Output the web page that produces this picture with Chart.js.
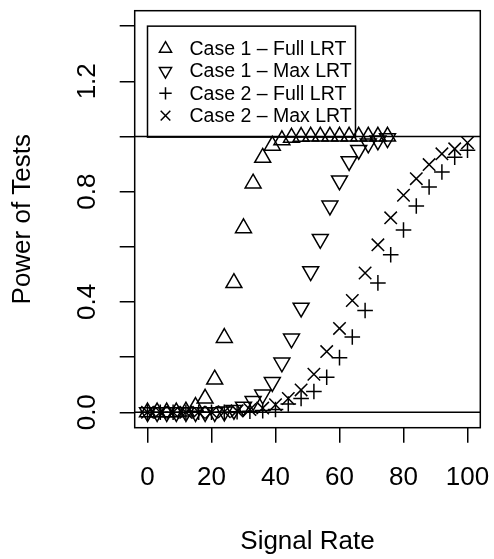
<!DOCTYPE html>
<html>
<head>
<meta charset="utf-8">
<script src="https://cdn.jsdelivr.net/npm/chart.js@4.4.0/dist/chart.umd.min.js"></script>
<style>
  html, body { margin: 0; padding: 0; background: #fff; }
  #wrap { width: 494px; height: 559px; }
</style>
</head>
<body>
<div id="wrap"><canvas id="chart" width="494" height="559"></canvas></div>
<script>
// Case 1: signal rates 0..75 in steps of 3
const case1Rates = [0, 3, 6, 9, 12, 15, 18, 21, 24, 27, 30, 33, 36, 39, 42, 45, 48, 51, 54, 57, 60, 63, 66, 69, 72, 75];
const case1Full = [0, 0, 0, 0, 0.003, 0.02, 0.05, 0.119, 0.27, 0.469, 0.668, 0.83, 0.923, 0.967, 0.987, 0.996, 0.999, 1, 1, 1, 1, 1, 1, 1, 1, 1];
const case1Max = [0, 0, 0, 0, 0, 0, 0, 0, 0.002, 0.008, 0.02, 0.04, 0.064, 0.109, 0.18, 0.267, 0.379, 0.511, 0.628, 0.749, 0.84, 0.91, 0.951, 0.974, 0.985, 0.993];

// Case 2: signal rates 0..100 in steps of 4
const case2Rates = [0, 4, 8, 12, 16, 20, 24, 28, 32, 36, 40, 44, 48, 52, 56, 60, 64, 68, 72, 76, 80, 84, 88, 92, 96, 100];
const case2Full = [0, 0, 0, 0, 0, 0, 0, 0.002, 0.004, 0.006, 0.01, 0.03, 0.05, 0.075, 0.127, 0.198, 0.273, 0.369, 0.469, 0.571, 0.661, 0.748, 0.817, 0.871, 0.925, 0.95];
const case2Max = [0, 0, 0, 0, 0, 0, 0.002, 0.005, 0.01, 0.015, 0.027, 0.05, 0.081, 0.138, 0.22, 0.304, 0.405, 0.505, 0.607, 0.705, 0.787, 0.847, 0.898, 0.937, 0.955, 0.977];

const seriesNames = ['Case 1 \u2013 Full LRT', 'Case 1 \u2013 Max LRT', 'Case 2 \u2013 Full LRT', 'Case 2 \u2013 Max LRT'];

// axes
const xRange = [-4, 104];
const yRange = [-0.056, 1.456];
const xTicks = [0, 20, 40, 60, 80, 100];
const yTicks = [0, 0.2, 0.4, 0.6, 0.8, 1.0, 1.2, 1.4];
const yTickLabels = ['0.0', '', '0.4', '', '0.8', '', '1.2', ''];
const refLevels = [0, 1];

const FONT = 'Liberation Sans, Arial, Helvetica, sans-serif';

function toPoints(xs, ys) {
    return xs.map((x, i) => ({ x: x, y: ys[i] }));
}

const markerStyles = [
    { pointStyle: 'triangle', radius: 9.2, rotation: 0, legendRadius: 7 },
    { pointStyle: 'triangle', radius: 9.2, rotation: 180, legendRadius: 7 },
    { pointStyle: 'cross', radius: 7.8, rotation: 0, legendRadius: 6.2 },
    { pointStyle: 'crossRot', radius: 8.8, rotation: 0, legendRadius: 6.8 }
];

const seriesData = [
    toPoints(case1Rates, case1Full),
    toPoints(case1Rates, case1Max),
    toPoints(case2Rates, case2Full),
    toPoints(case2Rates, case2Max)
];

const datasets = seriesData.map((pts, i) => ({
    label: seriesNames[i],
    data: pts,
    showLine: false,
    pointStyle: markerStyles[i].pointStyle,
    pointRadius: markerStyles[i].radius,
    pointHoverRadius: markerStyles[i].radius,
    pointRotation: markerStyles[i].rotation,
    pointBorderWidth: 1.5,
    pointBorderColor: '#000',
    pointBackgroundColor: 'rgba(0,0,0,0)'
}));

// horizontal reference lines across the whole plot
refLevels.forEach(level => {
    datasets.push({
        label: 'ref' + level,
        data: [{ x: xRange[0], y: level }, { x: xRange[1], y: level }],
        showLine: true,
        borderColor: '#000',
        borderWidth: 1.5,
        pointRadius: 0,
        pointHoverRadius: 0
    });
});

// box around the plot region
const framePlugin = {
    id: 'frame',
    afterDraw(chart) {
        const { ctx, chartArea } = chart;
        ctx.save();
        ctx.strokeStyle = '#000';
        ctx.lineWidth = 1.5;
        ctx.strokeRect(chartArea.left, chartArea.top, chartArea.right - chartArea.left, chartArea.bottom - chartArea.top);
        ctx.restore();
    }
};

// R style legend anchored at (0, 1.4)
const legendPlugin = {
    id: 'rLegend',
    afterDraw(chart) {
        const { ctx } = chart;
        const xs = chart.scales.x;
        const ys = chart.scales.y;
        const left = xs.getPixelForValue(0);
        const top = ys.getPixelForValue(1.4);
        const width = 208;
        const height = 111;

        ctx.save();
        ctx.strokeStyle = '#000';
        ctx.lineWidth = 1.5;
        ctx.strokeRect(left, top, width, height);

        ctx.font = '19.5px ' + FONT;
        ctx.fillStyle = '#000';
        ctx.textAlign = 'left';
        ctx.textBaseline = 'middle';

        seriesNames.forEach((name, i) => {
            const rowY = top + 22.6 + i * 22.3;
            ctx.save();
            ctx.fillStyle = 'rgba(0,0,0,0)';
            ctx.strokeStyle = '#000';
            Chart.helpers.drawPoint(ctx, {
                pointStyle: markerStyles[i].pointStyle,
                radius: markerStyles[i].legendRadius,
                rotation: markerStyles[i].rotation,
                borderWidth: 1.3
            }, left + 18, rowY);
            ctx.restore();
            ctx.fillText(name, left + 42, rowY + 1);
        });
        ctx.restore();
    }
};

new Chart(document.getElementById('chart'), {
    type: 'scatter',
    data: { datasets: datasets },
    options: {
        responsive: false,
        animation: false,
        events: [],
        layout: { padding: { top: 7.5, right: 13.7, left: 0, bottom: 0 } },
        plugins: {
            legend: { display: false },
            tooltip: { enabled: false }
        },
        scales: {
            x: {
                type: 'linear',
                min: xRange[0],
                max: xRange[1],
                afterBuildTicks: s => { s.ticks = xTicks.map(v => ({ value: v })); },
                afterFit: s => { s.height = 131.3; s.paddingLeft = 0; s.paddingRight = 0; },
                ticks: {
                    autoSkip: false,
                    maxRotation: 0,
                    padding: 19.4,
                    color: '#000',
                    font: { family: FONT, size: 26 },
                    callback: v => String(v)
                },
                grid: { drawOnChartArea: false, drawTicks: true, tickLength: 15, color: '#000', lineWidth: 1.5 },
                border: { display: false },
                title: {
                    display: true,
                    text: 'Signal Rate',
                    color: '#000',
                    font: { family: FONT, size: 26 },
                    padding: { top: 0, bottom: 1.7 }
                }
            },
            y: {
                type: 'linear',
                min: yRange[0],
                max: yRange[1],
                afterBuildTicks: s => { s.ticks = yTicks.map(v => ({ value: v })); },
                afterFit: s => { s.width = 134.7; s.paddingTop = 0; s.paddingBottom = 0; },
                ticks: {
                    autoSkip: false,
                    minRotation: 90,
                    maxRotation: 90,
                    crossAlign: 'center',
                    padding: 14.1,
                    color: '#000',
                    font: { family: FONT, size: 26 },
                    callback: (v, i) => yTickLabels[i]
                },
                grid: { drawOnChartArea: false, drawTicks: true, tickLength: 15, color: '#000', lineWidth: 1.5 },
                border: { display: false },
                title: {
                    display: true,
                    text: 'Power of Tests',
                    color: '#000',
                    font: { family: FONT, size: 26 },
                    padding: { top: 7.4, bottom: 0 }
                }
            }
        }
    },
    plugins: [framePlugin, legendPlugin]
});
</script>
</body>
</html>
